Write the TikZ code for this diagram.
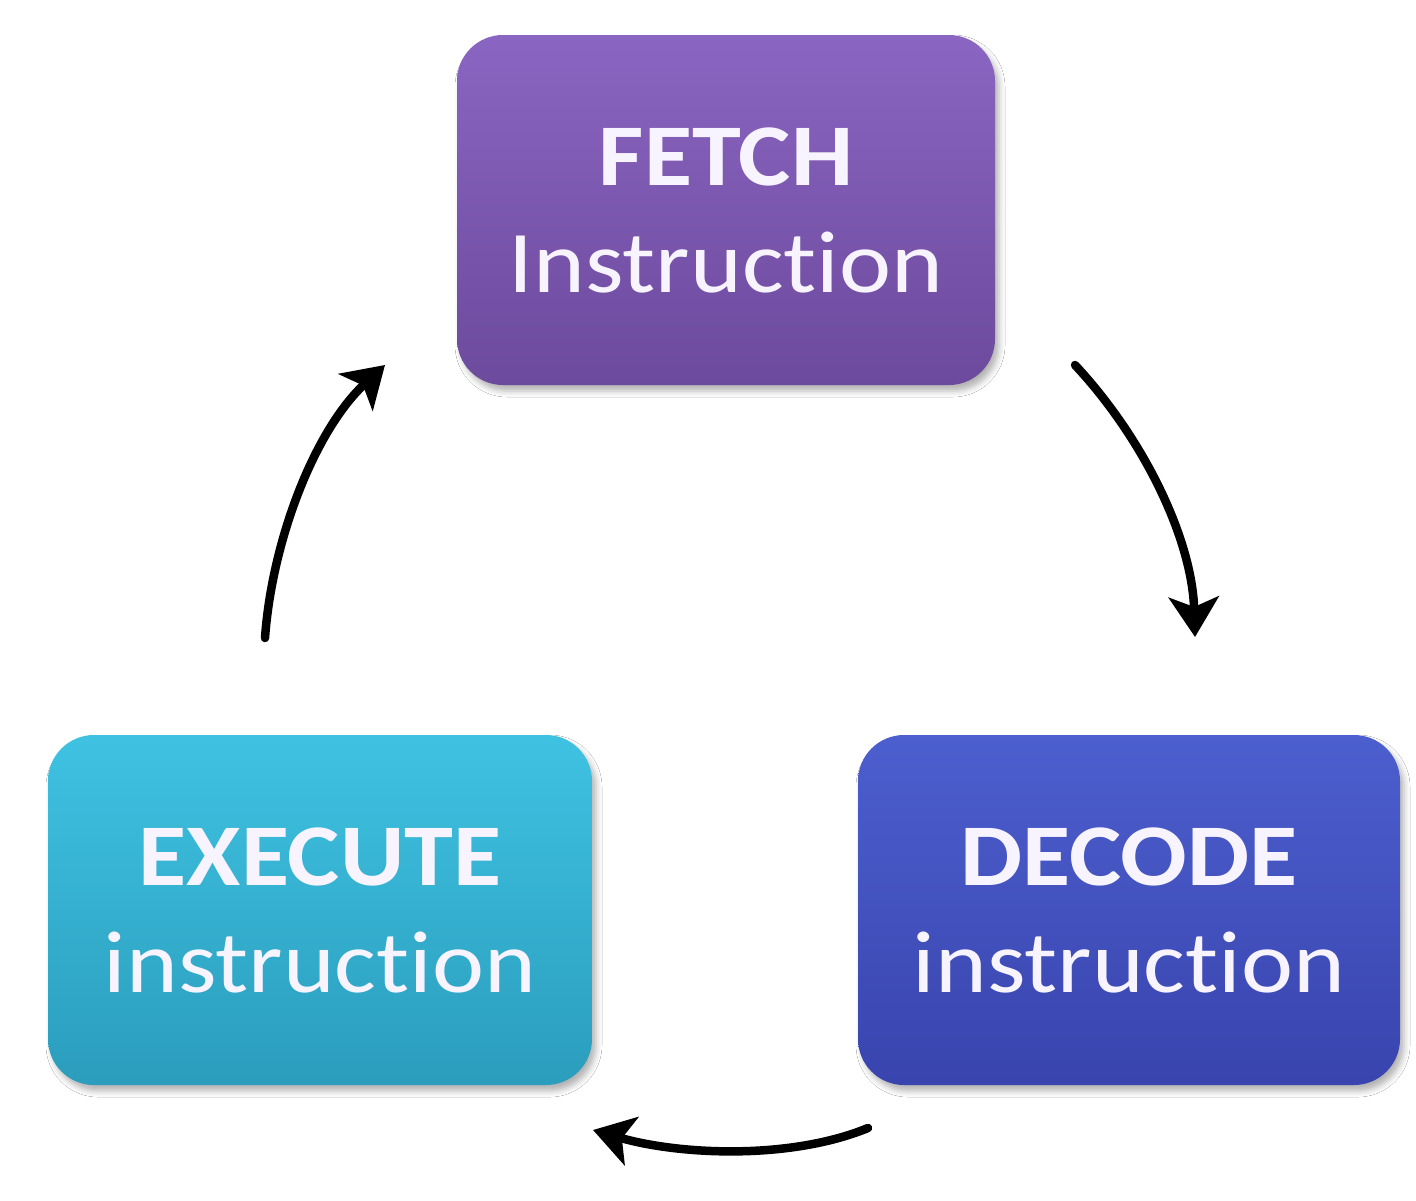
\documentclass[tikz,border=0pt]{standalone}
\usepackage{fontspec}
\setmainfont{Carlito}[FakeStretch=1.12, Ligatures=NoCommon]
\usetikzlibrary{arrows.meta,shadows.blur}
\definecolor{fetchtop}{HTML}{8A65C2}
\definecolor{fetchbot}{HTML}{6C4A9C}
\definecolor{exectop}{HTML}{3FC2E2}
\definecolor{execbot}{HTML}{2B9DBD}
\definecolor{dectop}{HTML}{4C5FCE}
\definecolor{decbot}{HTML}{3944AE}
\definecolor{txtc}{HTML}{F8F4FF}
\tikzset{
  stagebox/.style={rounded corners=46pt, minimum width=#1, minimum height=350pt,
    align=center, text=txtc, inner sep=0pt,
    font=\fontsize{88}{107}\selectfont,
    blur shadow={shadow xshift=4pt, shadow yshift=-6pt, shadow blur radius=6pt, shadow opacity=30}},
  cyclearrow/.style={line width=8.5pt, draw=black, line cap=round,
    -{Stealth[length=40pt,width=50pt,inset=10pt]}}
}
\begin{document}
\begin{tikzpicture}[x=1pt,y=-1pt]
\useasboundingbox[fill=white] (0,0) rectangle (1416,1200);
\node[stagebox=538pt, top color=fetchtop, bottom color=fetchbot] (fetch) at (726,210)
  {\textbf{FETCH}\\Instruction};
\node[stagebox=544pt, top color=exectop, bottom color=execbot] (execute) at (320,910)
  {\textbf{EXECUTE}\\instruction};
\node[stagebox=542pt, top color=dectop, bottom color=decbot] (decode) at (1129,910)
  {\textbf{DECODE}\\instruction};
\coordinate (fd1) at (1075,365);
\coordinate (fd2) at (1195,637);
\coordinate (de1) at (868,1128);
\coordinate (de2) at (593,1130);
\coordinate (ef1) at (265,638);
\coordinate (ef2) at (385,365);
\draw[cyclearrow] (fd1) .. controls (1145,440) and (1192,540) .. (fd2);
\draw[cyclearrow] (de1) .. controls (790,1160) and (680,1155) .. (de2);
\draw[cyclearrow] (ef1) .. controls (272,540) and (315,430) .. (ef2);
\end{tikzpicture}
\end{document}
